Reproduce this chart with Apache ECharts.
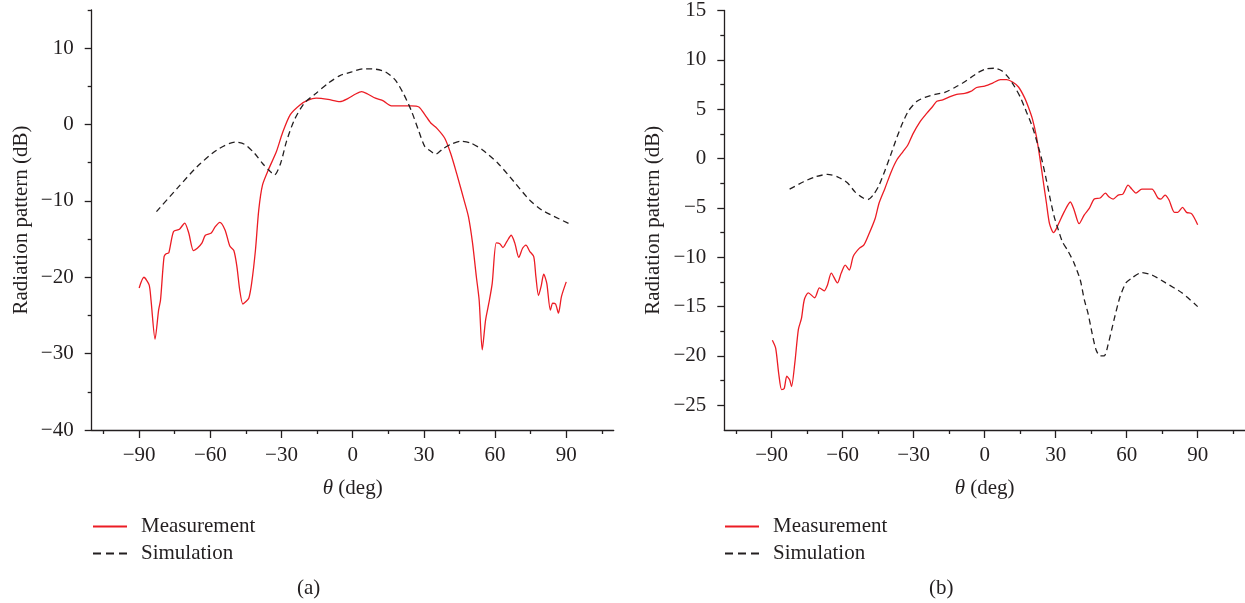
<!DOCTYPE html>
<html>
<head>
<meta charset="utf-8">
<script src="https://cdn.jsdelivr.net/npm/echarts@6/dist/echarts.min.js"></script>
<style>
  html, body { margin: 0; padding: 0; background: #fff; }
  #chart { width: 1245px; height: 603px; }
</style>
</head>
<body>
<div id="chart"></div>
<script>
// (a) measurement
var thetaMeasA = [-90, -88, -85.8, -85, -83.3, -81.8, -81, -79.5, -78.5, -77.5, -75.5, -73, -70.8, -69.1, -67.1, -65.5, -63.5, -62.1, -59.6, -58, -56, -53.8, -51.8, -50.1, -48.8, -47.6, -46.3, -45.1, -43.8, -42.6, -41, -39.6, -38, -35.5, -32.1, -29.6, -26.3, -22.1, -18.8, -15.4, -10.4, -5.4, -2.1, 1.25, 3.75, 6.3, 9.6, 12.9, 16.3, 19.6, 24.6, 27.9, 30.4, 32.9, 35.5, 38.8, 41.3, 43.8, 47.1, 48.8, 50.5, 52.1, 53.3, 54.6, 56, 57.5, 58.8, 60.5, 62, 63.3, 65, 66.8, 68.3, 70, 71.6, 73, 74.6, 76.3, 77.2, 78.3, 79.4, 80.5, 81.8, 83.3, 84.3, 85.5, 86.7, 88, 90];
var dbMeasA = [-21.4, -20.0, -21.0, -23.0, -28.1, -24.3, -23.0, -17.3, -16.9, -16.8, -14.0, -13.7, -12.9, -14.2, -16.5, -16.2, -15.5, -14.5, -14.2, -13.4, -12.8, -13.8, -15.9, -16.5, -18.6, -21.7, -23.5, -23.2, -22.75, -20.8, -16.5, -11.2, -7.9, -5.9, -3.5, -1.1, 1.3, 2.6, 3.2, 3.45, 3.3, 3.0, 3.4, 4.0, 4.3, 4.0, 3.45, 3.1, 2.45, 2.45, 2.45, 2.3, 1.3, 0.2, -0.5, -1.8, -3.8, -6.4, -10.1, -12.1, -15.5, -19.9, -23.0, -29.5, -25.6, -23.2, -20.8, -15.5, -15.6, -16.1, -15.3, -14.5, -15.5, -17.4, -16.2, -15.8, -16.6, -17.3, -19.9, -22.4, -21.2, -19.6, -20.8, -24.3, -23.4, -23.5, -24.7, -22.5, -20.6];
// (a) simulation
var thetaSimA = [-82.7, -73.8, -65.5, -57.1, -49.6, -45.5, -41.3, -38, -34.6, -33, -30.4, -27.9, -24.6, -20.4, -15.4, -10.4, -5.4, -0.4, 4.6, 9.6, 13.8, 17.9, 21.3, 24.6, 27.9, 30.4, 32.9, 34.9, 37.9, 41.3, 45.5, 49.6, 54.6, 61.3, 68, 74.6, 79.7, 84.7, 91.3];
var dbSimA = [-11.4, -8.3, -5.5, -3.3, -2.3, -2.6, -3.8, -5.1, -6.2, -6.6, -5.1, -2.2, 0.6, 2.8, 4.1, 5.4, 6.4, 6.9, 7.3, 7.25, 6.9, 5.85, 4.1, 1.9, -0.9, -2.9, -3.5, -3.9, -3.2, -2.6, -2.2, -2.4, -3.3, -5.1, -7.5, -9.9, -11.2, -12.0, -13.0];

// (b) measurement
var thetaMeasB = [-89.7, -88.3, -87, -85.8, -84.7, -83.6, -82.4, -81.6, -80.2, -78.7, -77.4, -76.2, -74.5, -71.8, -69.8, -67.8, -66.4, -64.8, -62.2, -60.6, -58.9, -57.2, -55.5, -53, -51, -48.8, -46.3, -44.6, -42.1, -39.5, -37, -34.5, -32.5, -30.3, -27.4, -24.4, -21.9, -20.2, -17.7, -14.3, -11.8, -8.4, -5.9, -3.4, 0, 3.4, 6.7, 9.3, 11.8, 14.3, 16.8, 18.5, 20.2, 21.9, 23.5, 24.7, 26.1, 27.4, 29.1, 30.3, 32, 33.6, 36.2, 37.8, 39.9, 42.1, 44.2, 46.3, 48.8, 51, 52.6, 54.3, 56.4, 58.4, 60.6, 62.2, 63.9, 66.4, 70.7, 73.2, 74.5, 76.2, 77.9, 80.2, 81.6, 83.6, 85.3, 87.5, 90];
var dbMeasB = [-18.4, -19.2, -21.8, -23.4, -23.3, -22.05, -22.4, -23.1, -20.7, -17.3, -16.2, -14.3, -13.6, -14.1, -13.1, -13.4, -12.8, -11.6, -12.6, -11.6, -10.8, -11.3, -9.9, -9.1, -8.75, -7.6, -6.1, -4.5, -3.0, -1.35, -0.1, 0.7, 1.35, 2.5, 3.7, 4.6, 5.3, 5.8, 5.95, 6.3, 6.5, 6.6, 6.8, 7.2, 7.35, 7.65, 8.0, 8.0, 7.75, 7.25, 6.2, 5.2, 4.0, 2.2, -0.2, -2.2, -4.5, -6.6, -7.5, -7.1, -6.2, -5.4, -4.4, -5.2, -6.6, -5.7, -5.05, -4.1, -4.0, -3.5, -3.9, -4.1, -3.7, -3.6, -2.7, -3.1, -3.5, -3.1, -3.1, -4.0, -4.1, -3.7, -4.2, -5.45, -5.45, -4.95, -5.45, -5.6, -6.7];
// (b) simulation
var thetaSimB = [-82.4, -76.5, -71.5, -66.4, -62.2, -58, -54.7, -51.3, -49.3, -47.1, -44.6, -42.1, -39.5, -37, -34.5, -32, -28.6, -25.2, -21, -16.8, -12.6, -9.3, -5.9, -2.5, 0.8, 4.2, 7.2, 10.1, 12.6, 15.1, 17.7, 20.2, 22.7, 24.4, 26.1, 27.8, 29.4, 31.1, 32.8, 35.3, 37.8, 40.4, 42.1, 43.7, 45.4, 47.1, 48.8, 50.5, 52.1, 54.7, 57.2, 59.7, 62.2, 66.4, 70.7, 76.5, 83.3, 90];
var dbSimB = [-3.1, -2.35, -1.85, -1.6, -1.85, -2.45, -3.4, -4.0, -4.15, -3.7, -2.7, -1.2, 0.5, 2.2, 3.7, 4.9, 5.8, 6.2, 6.5, 6.7, 7.2, 7.65, 8.2, 8.75, 9.1, 9.15, 8.9, 8.2, 7.3, 6.2, 4.7, 3.2, 1.2, -0.35, -2.2, -4.2, -5.9, -7.2, -8.4, -9.4, -10.6, -12.3, -14.3, -15.7, -17.7, -19.4, -20.0, -20.0, -18.9, -16.3, -14.0, -12.6, -12.1, -11.55, -11.8, -12.6, -13.6, -15.0];

// ticks
var xMajor = [-90, -60, -30, 0, 30, 60, 90];
var xMinor = [-105, -75, -45, -15, 15, 45, 75, 105];
var yMajorA = [-40, -30, -20, -10, 0, 10];
var yMinorA = [-35, -25, -15, -5, 5, 15];
var yMajorB = [-25, -20, -15, -10, -5, 0, 5, 10, 15];
var yMinorB = [-22.5, -17.5, -12.5, -7.5, -2.5, 2.5, 7.5, 12.5];

var ink = '#231f20';
var red = '#ec1c24';
var font = '"Liberation Serif", "DejaVu Serif", serif';
var fs = 21;

function zip(a, b) {
  return a.map(function (t, i) { return [t, b[i]]; });
}
function minus(v) {
  return String(v).replace('-', '\u2212');
}

function xAxes(grid) {
  return [{
    type: 'value', gridIndex: grid, min: -110, max: 110, position: 'bottom',
    name: '{i|\u03b8} (deg)', nameLocation: 'middle', nameGap: 48,
    nameTextStyle: { color: ink, fontFamily: font, fontSize: fs, rich: { i: { fontStyle: 'italic', fontFamily: font, fontSize: fs, color: ink } } },
    axisLine: { onZero: false, lineStyle: { color: ink, width: 1.3 } },
    axisTick: { customValues: xMajor, length: 8, lineStyle: { color: ink, width: 1.3 } },
    axisLabel: { customValues: xMajor, margin: 15, color: ink, fontFamily: font, fontSize: fs, formatter: minus },
    splitLine: { show: false }
  }, {
    type: 'value', gridIndex: grid, min: -110, max: 110, position: 'bottom',
    axisLine: { show: false, onZero: false },
    axisTick: { customValues: xMinor, length: 4, lineStyle: { color: ink, width: 1.3 } },
    axisLabel: { show: false },
    splitLine: { show: false }
  }];
}

function yAxes(grid, min, major, minor) {
  return [{
    type: 'value', gridIndex: grid, min: min, max: 15, position: 'left',
    name: 'Radiation pattern (dB)', nameLocation: 'middle', nameGap: 60,
    nameTextStyle: { color: ink, fontFamily: font, fontSize: fs },
    axisLine: { show: true, onZero: false, lineStyle: { color: ink, width: 1.3 } },
    axisTick: { show: true, customValues: major, length: 7, lineStyle: { color: ink, width: 1.3 } },
    axisLabel: { customValues: major, margin: 18, color: ink, fontFamily: font, fontSize: fs, formatter: minus },
    splitLine: { show: false }
  }, {
    type: 'value', gridIndex: grid, min: min, max: 15, position: 'left',
    axisLine: { show: false, onZero: false },
    axisTick: { show: true, customValues: minor, length: 4, lineStyle: { color: ink, width: 1.3 } },
    axisLabel: { show: false },
    splitLine: { show: false }
  }];
}

function lineSeries(name, data, xi, yi, isSim) {
  return {
    name: name, type: 'line', data: data,
    xAxisIndex: xi, yAxisIndex: yi,
    symbol: 'none', smooth: 0.25, animation: false,
    lineStyle: isSim ? { color: ink, width: 1.3, type: [6, 4] } : { color: red, width: 1.3 },
    itemStyle: { color: isSim ? ink : red }
  };
}

function legendAt(left) {
  return {
    orient: 'vertical', left: left, top: 516, padding: 0,
    itemWidth: 34, itemHeight: 14, itemGap: 6,
    selectedMode: false,
    data: ['Measurement', { name: 'Simulation', lineStyle: { type: [8, 5] } }],
    itemStyle: { opacity: 0 },
    textStyle: { color: ink, fontFamily: font, fontSize: fs, lineHeight: 21, padding: [0, 0, 0, 9] }
  };
}

var dom = document.getElementById('chart');
var myChart = echarts.init(dom, null, { renderer: 'canvas' });

var option = {
  backgroundColor: '#fff',
  animation: false,
  title: [
    { text: '(a)', left: 292, top: 573, textStyle: { color: ink, fontFamily: font, fontSize: fs, fontWeight: 'normal' } },
    { text: '(b)', left: 924, top: 573, textStyle: { color: ink, fontFamily: font, fontSize: fs, fontWeight: 'normal' } }
  ],
  legend: [legendAt(92), legendAt(724)],
  grid: [
    { left: 91.7, top: 10, width: 522, height: 420 },
    { left: 724.3, top: 10, width: 520.7, height: 420 }
  ],
  xAxis: xAxes(0).concat(xAxes(1)),
  yAxis: yAxes(0, -40, yMajorA, yMinorA).concat(yAxes(1, -27.5, yMajorB, yMinorB)),
  series: [
    lineSeries('Measurement', zip(thetaMeasA, dbMeasA), 0, 0, false),
    lineSeries('Simulation', zip(thetaSimA, dbSimA), 0, 0, true),
    lineSeries('Measurement', zip(thetaMeasB, dbMeasB), 2, 2, false),
    lineSeries('Simulation', zip(thetaSimB, dbSimB), 2, 2, true)
  ]
};

myChart.setOption(option);
window.addEventListener('resize', myChart.resize);
</script>
</body>
</html>
